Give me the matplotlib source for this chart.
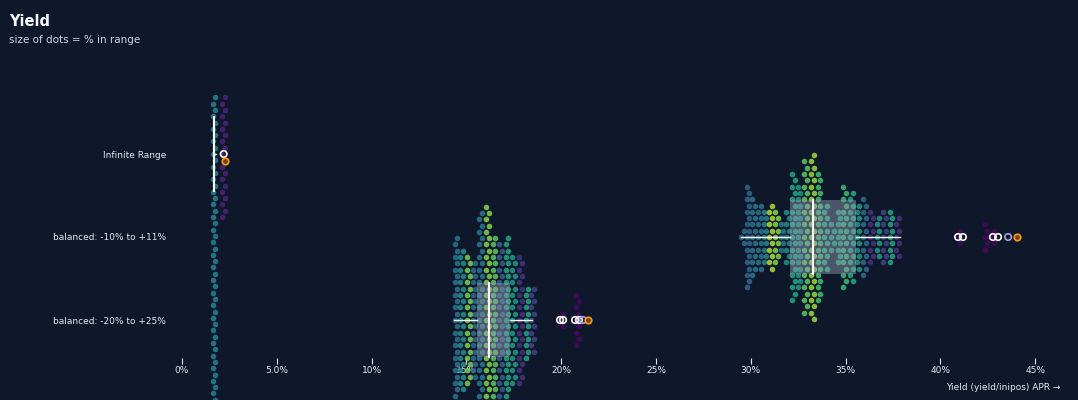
import numpy as np
import matplotlib.pyplot as plt
from matplotlib.patches import Rectangle

# rows of the chart
rows = ['Infinite Range', 'balanced: -10% to +11%', 'balanced: -20% to +25%']

# beeswarm columns per row: yield APR (%), number of dots, colour value (viridis 0..1)
inf_x = [1.69, 2.20]
inf_n = [80, 21]
inf_c = [0.45, 0.10]

b10_x = [29.55, 29.85, 30.15, 30.45, 30.75, 31.05, 31.35, 31.65, 31.95, 32.25,
         32.55, 32.90, 33.25, 33.60, 33.95, 34.30, 34.65, 34.95, 35.30, 35.65,
         36.00, 36.35, 36.70, 37.05, 37.40, 37.75, 40.95, 42.40, 42.75]
b10_n = [3, 17, 13, 11, 9, 11, 9, 5, 9, 21,
         17, 25, 27, 21, 11, 5, 9, 17, 15, 11,
         13, 9, 7, 9, 9, 7, 3, 5, 3]
b10_c = [0.35, 0.33, 0.40, 0.38, 0.45, 0.88, 0.82, 0.40, 0.50, 0.60,
         0.55, 0.75, 0.85, 0.70, 0.65, 0.60, 0.62, 0.68, 0.62, 0.55,
         0.35, 0.15, 0.55, 0.20, 0.60, 0.15, 0.02, 0.02, 0.02]

b20_x = [14.45, 14.75, 15.10, 15.40, 15.75, 16.10, 16.45, 16.80, 17.15, 17.50,
         17.85, 18.20, 18.50, 20.00, 20.85]
b20_n = [27, 23, 21, 19, 35, 37, 27, 25, 27, 21,
         21, 12, 11, 3, 9]
b20_c = [0.38, 0.50, 0.80, 0.35, 0.40, 0.82, 0.75, 0.30, 0.60, 0.55,
         0.15, 0.60, 0.20, 0.02, 0.02]

# box plot stats per row (%)
box_lo = [1.62, 29.50, 14.35]
box_q1 = [1.66, 32.07, 15.56]
box_med = [1.69, 33.28, 16.20]
box_q3 = [1.72, 35.55, 17.30]
box_hi = [1.78, 37.87, 18.45]

# outliers (white rings), extremes (lavender rings), current value (orange)
out_x = [2.20, 40.93, 41.19, 42.77, 43.04, 19.94, 20.10, 20.73, 20.94]
out_row = [0, 1, 1, 1, 1, 2, 2, 2, 2]
ext_x = [43.57, 21.15]
ext_row = [1, 2]
cur_x = [2.27, 44.04, 21.41]
cur_row = [0, 1, 2]

ticks = [0, 5, 10, 15, 20, 25, 30, 35, 40, 45]
tick_labels = ['0%', '5.0%', '10%', '15%', '20%', '25%', '30%', '35%', '40%', '45%']

BG = '#0f172a'
TXT = '#e2e8f0'
ROW_PX = 83.0          # pixels between rows
STEP = 6.3 / ROW_PX    # vertical dot spacing in row units
ZIG = 0.07             # small horizontal zigzag of stacked dots (%)


def column_dots(x, n, row):
    xs, ys = [], []
    for i in range(n):
        k = (i + 1) // 2
        sign = 1 if i % 2 else -1
        ys.append(row + sign * k * STEP)
        xs.append(x + (ZIG if k % 2 else -ZIG))
    return xs, ys


fig = plt.figure(figsize=(10.78, 4.0), dpi=100, facecolor=BG)
ax = fig.add_axes([0, 0, 1, 305 / 400])
ax.set_facecolor('none')

groups = [(inf_x, inf_n, inf_c), (b10_x, b10_n, b10_c), (b20_x, b20_n, b20_c)]
for row, (gx, gn, gc) in enumerate(groups):
    for x, n, c in zip(gx, gn, gc):
        xs, ys = column_dots(x, n, row)
        ax.scatter(xs, ys, s=16, color=plt.cm.viridis(c), alpha=0.85,
                   linewidths=0, zorder=2)

for row in range(len(rows)):
    ax.add_patch(Rectangle((box_q1[row], row - 0.45), box_q3[row] - box_q1[row], 0.9,
                           facecolor='#94a3b8', alpha=0.45, lw=0, zorder=3))
    ax.plot([box_lo[row], box_q1[row]], [row, row], color='white', lw=1, zorder=4)
    ax.plot([box_q3[row], box_hi[row]], [row, row], color='white', lw=1, zorder=4)
    ax.plot([box_med[row]] * 2, [row - 0.45, row + 0.45], color='white', lw=1.5, zorder=4)

ax.scatter(out_x, out_row, s=22, facecolor='none', edgecolor='white', linewidths=1.2, zorder=5)
ax.scatter(ext_x, ext_row, s=22, facecolor='none', edgecolor='#a5a1e8', linewidths=1.2, zorder=5)
# the current-value marker is nudged down when it would sit on an outlier ring
cur_y = []
for x, r in zip(cur_x, cur_row):
    near = any(abs(x - ox) < 0.2 and orow == r for ox, orow in zip(out_x, out_row))
    cur_y.append(r + (7 / ROW_PX if near else 0))
ax.scatter(cur_x, cur_y, s=22, facecolor='#7c3f12', edgecolor='#f59e0b', linewidths=1.2, zorder=6)

ax.set_xlim(-182 / 18.96, 896 / 18.96)
ax.set_ylim((400 - 154) / ROW_PX, (95 - 154) / ROW_PX)

for side in ['top', 'right', 'bottom', 'left']:
    ax.spines[side].set_visible(False)
ax.spines['bottom'].set_position(('data', (358 - 154) / ROW_PX))
ax.spines['left'].set_position(('data', 0))
ax.set_xticks(ticks)
ax.set_xticklabels(tick_labels)
ax.set_yticks(range(len(rows)))
ax.set_yticklabels(rows)
ax.tick_params(axis='x', colors=TXT, labelsize=6.5, length=4, width=0.8, pad=1.5)
ax.tick_params(axis='y', colors=TXT, labelsize=6.5, length=0, pad=11.5)

fig.text(1060 / 1078, 1 - 387 / 400, 'Yield (yield/inipos) APR \u2192', color=TXT,
         fontsize=6.5, ha='right', va='center')
fig.text(9 / 1078, 1 - 22 / 400, 'Yield', color='#f8fafc', fontsize=10.5,
         fontweight='bold', ha='left', va='center')
fig.text(9 / 1078, 1 - 40 / 400, 'size of dots = % in range', color='#cbd5e1',
         fontsize=7.5, ha='left', va='center')

fig.savefig('out.png', dpi=100, facecolor=BG)
